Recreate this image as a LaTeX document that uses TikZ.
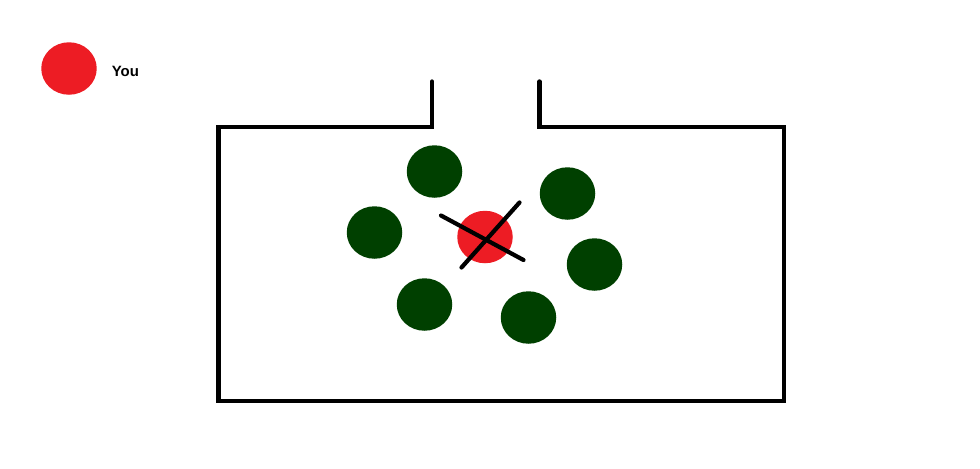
\documentclass[tikz,border=0pt]{standalone}
\usepackage{fontspec}
\setsansfont{Liberation Sans}
\usepackage{tikz}
\usetikzlibrary{shapes}
\definecolor{dotred}{RGB}{237,28,36}
\definecolor{dotgreen}{RGB}{0,64,0}
\tikzset{
  dot/.style = {ellipse, inner sep=0pt, minimum width=1.11cm,
    minimum height=1.05cm},% pion
  red_dot/.style = {dot, fill=dotred},% pion rouge
  green_dot/.style = {dot, fill=dotgreen},% pion vert
  wall/.style = {line width=2.5pt, line cap=round, line join=miter},% paroi
  cross_line/.style = {line width=2.4pt, line cap=round}% croix
}

\begin{document}
\begin{tikzpicture}[x=0.02cm, y=-0.02cm]
      \useasboundingbox (0,0) rectangle (980,468);
      \node [red_dot] (you) at (69,68.5) {};
      \node [font=\sffamily\bfseries\fontsize{8.5}{10}\selectfont, inner sep=0pt,
        anchor=base west] (youlabel) at (111.5,76.5) {You};
      \draw [wall] (432,81.5) -- (432,127) -- (218.5,127) -- (218.5,401)
        -- (784,401) -- (784,127) -- (539.5,127) -- (539.5,81.5);
      \node [green_dot] (g1) at (434.5,171.5) {};
      \node [green_dot] (g2) at (567.5,193.5) {};
      \node [green_dot] (g3) at (374.5,232.5) {};
      \node [green_dot] (g4) at (594.5,264.5) {};
      \node [green_dot] (g5) at (424.5,304.5) {};
      \node [green_dot] (g6) at (528.5,317.5) {};
      \node [red_dot] (me) at (485,237) {};
      \coordinate (x1) at (441,215.5);
      \coordinate (x2) at (523.5,260);
      \coordinate (x3) at (461.5,267.5);
      \coordinate (x4) at (519.5,202.5);
      \draw [cross_line] (x1) -- (x2);
      \draw [cross_line] (x3) -- (x4);
    \end{tikzpicture}
\end{document}
